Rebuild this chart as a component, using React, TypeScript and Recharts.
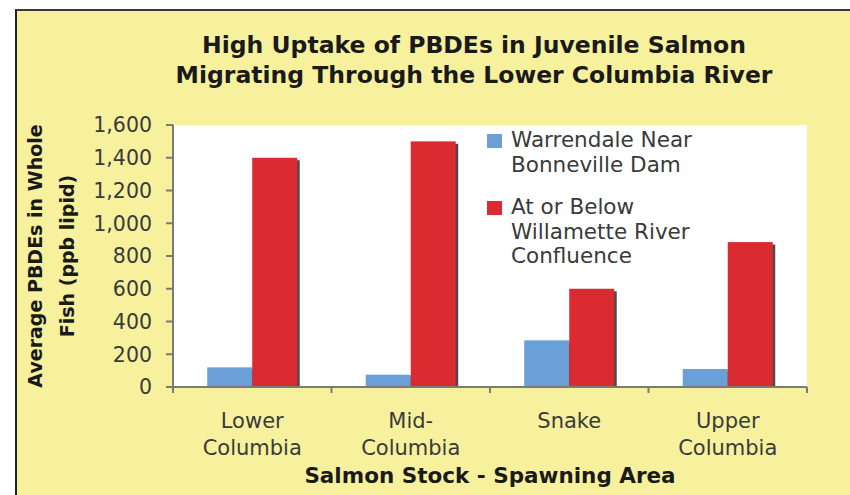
import React from "react";
import { BarChart, Bar, XAxis, YAxis, CartesianGrid, Legend } from "recharts";

const categories = ["Lower Columbia", "Mid-Columbia", "Snake", "Upper Columbia"];
const categoryTickLines = [["Lower", "Columbia"], ["Mid-", "Columbia"], ["Snake"], ["Upper", "Columbia"]];
const warrendaleValues = [120, 75, 285, 110];
const willametteValues = [1400, 1500, 600, 885];
const yTicks = [0, 200, 400, 600, 800, 1000, 1200, 1400, 1600];
const seriesKeys = ["warrendale", "willamette"];
const seriesLegendLines = [["Warrendale Near", "Bonneville Dam"], ["At or Below", "Willamette River", "Confluence"]];
const titleLines = ["High Uptake of PBDEs in Juvenile Salmon", "Migrating Through the Lower Columbia River"];
const yTitleLines = ["Average PBDEs in Whole", "Fish (ppb lipid)"];
const xTitle = "Salmon Stock - Spawning Area";

const BLUE = "#6A9FD8";
const RED = "#DC2A31";
const CREAM = "#F7F19E";
const FONT = "'DejaVu Sans', sans-serif";
const TEXT = "#3a3a3a";
const AXIS = "#7a7a7a";

const data = categories.map((name, i) => ({
  name,
  warrendale: warrendaleValues[i],
  willamette: willametteValues[i],
}));
const seriesColors = [BLUE, RED];

const ShadowBar = (props: any) => {
  const { x, y, width, height, fill } = props;
  if (!height || height <= 0) return null;
  const s = 2.5;
  return (
    <g>
      <rect x={x + s} y={y + s} width={width} height={Math.max(0, height - s)} fill="#2b2b2b" opacity={0.85} />
      <rect x={x} y={y} width={width} height={height} fill={fill} />
    </g>
  );
};

const XTick = (props: any) => {
  const { x, y, payload, width, visibleTicksCount } = props;
  const idx = payload.index;
  const lines = categoryTickLines[idx] || [String(payload.value)];
  const half = payload.offset != null && payload.offset > 0 ? payload.offset : width / visibleTicksCount / 2;
  const isLast = idx === categories.length - 1;
  return (
    <g>
      <line x1={x - half} x2={x - half} y1={y} y2={y + 6} stroke={AXIS} strokeWidth={2} />
      {isLast && <line x1={x + half} x2={x + half} y1={y} y2={y + 6} stroke={AXIS} strokeWidth={2} />}
      {lines.map((l, i) => (
        <text key={i} x={x} y={y + 41 + i * 27} textAnchor="middle" fill={TEXT} fontSize={21} fontFamily={FONT}>
          {l}
        </text>
      ))}
    </g>
  );
};

const YTitle = (props: any) => {
  const vb = props.viewBox || {};
  const cy = vb.y + vb.height / 2;
  const xs = [35, 67];
  return (
    <g>
      {yTitleLines.map((l, i) => (
        <text
          key={i}
          x={xs[i]}
          y={cy}
          transform={`rotate(-90 ${xs[i]} ${cy})`}
          textAnchor="middle"
          dominantBaseline="central"
          fontSize={19}
          fontWeight="bold"
          fontFamily={FONT}
          fill="#1a1a1a"
        >
          {l}
        </text>
      ))}
    </g>
  );
};

const XTitle = (props: any) => {
  const vb = props.viewBox || {};
  const cx = vb.x + vb.width / 2;
  return (
    <text x={cx} y={vb.y + 96} textAnchor="middle" fontSize={21.5} fontWeight="bold" fontFamily={FONT} fill="#1a1a1a">
      {xTitle}
    </text>
  );
};

const LegendContent = () => (
  <div style={{ fontFamily: FONT, fontSize: 21.5, lineHeight: "24.5px", color: TEXT }}>
    {seriesKeys.map((k, i) => (
      <div key={k} style={{ position: "relative", paddingLeft: 24, marginBottom: i === 0 ? 18 : 0 }}>
        <div style={{ position: "absolute", left: 0, top: 6, width: 15, height: 14, background: seriesColors[i] }} />
        {seriesLegendLines[i].map((l, j) => (
          <div key={j} style={{ whiteSpace: "nowrap" }}>{l}</div>
        ))}
      </div>
    ))}
  </div>
);

export default function App() {
  return (
    <div style={{ position: "absolute", left: 0, top: 0, width: 850, height: 495, background: "#fff", overflow: "hidden" }}>
      <div
        style={{
          position: "absolute",
          left: 15,
          top: 9,
          right: 0,
          bottom: 0,
          background: CREAM,
          borderTop: "2px solid #3b3a2c",
          borderLeft: "2px solid #222",
        }}
      />
      <div style={{ position: "absolute", left: 0, top: 0 }}>
        <BarChart
          width={850}
          height={495}
          data={data}
          margin={{ top: 125, right: 43, bottom: 0, left: 0 }}
          barCategoryGap="21.6%"
          barGap={0}
        >
          <CartesianGrid fill="#ffffff" horizontal={false} vertical={false} stroke="none" />
          <XAxis
            dataKey="name"
            height={108}
            interval={0}
            tickLine={false}
            tickSize={0}
            tickMargin={0}
            axisLine={{ stroke: AXIS, strokeWidth: 2 }}
            tick={<XTick />}
            label={<XTitle />}
          />
          <YAxis
            width={173}
            domain={[0, 1600]}
            ticks={yTicks}
            interval={0}
            tickSize={7}
            tickMargin={14}
            axisLine={{ stroke: AXIS, strokeWidth: 2 }}
            tickLine={{ stroke: AXIS, strokeWidth: 2 }}
            tick={{ fill: TEXT, fontSize: 20.5, fontFamily: FONT }}
            tickFormatter={(v: number) => v.toLocaleString("en-US")}
            label={<YTitle />}
          />
          <Legend
            layout="horizontal"
            verticalAlign="middle"
            align="center"
            content={<LegendContent />}
            wrapperStyle={{ left: 487, top: 128, width: 320 }}
          />
          <Bar dataKey="warrendale" fill={BLUE} shape={<ShadowBar />} isAnimationActive={false} />
          <Bar dataKey="willamette" fill={RED} shape={<ShadowBar />} isAnimationActive={false} />
        </BarChart>
      </div>
      <svg width={850} height={495} style={{ position: "absolute", left: 0, top: 0, pointerEvents: "none" }}>
        {titleLines.map((l, i) => (
          <text key={i} x={474} y={53 + i * 30} textAnchor="middle" fontSize={23.5} fontWeight="bold" fontFamily={FONT} fill="#1a1a1a">
            {l}
          </text>
        ))}
      </svg>
    </div>
  );
}
